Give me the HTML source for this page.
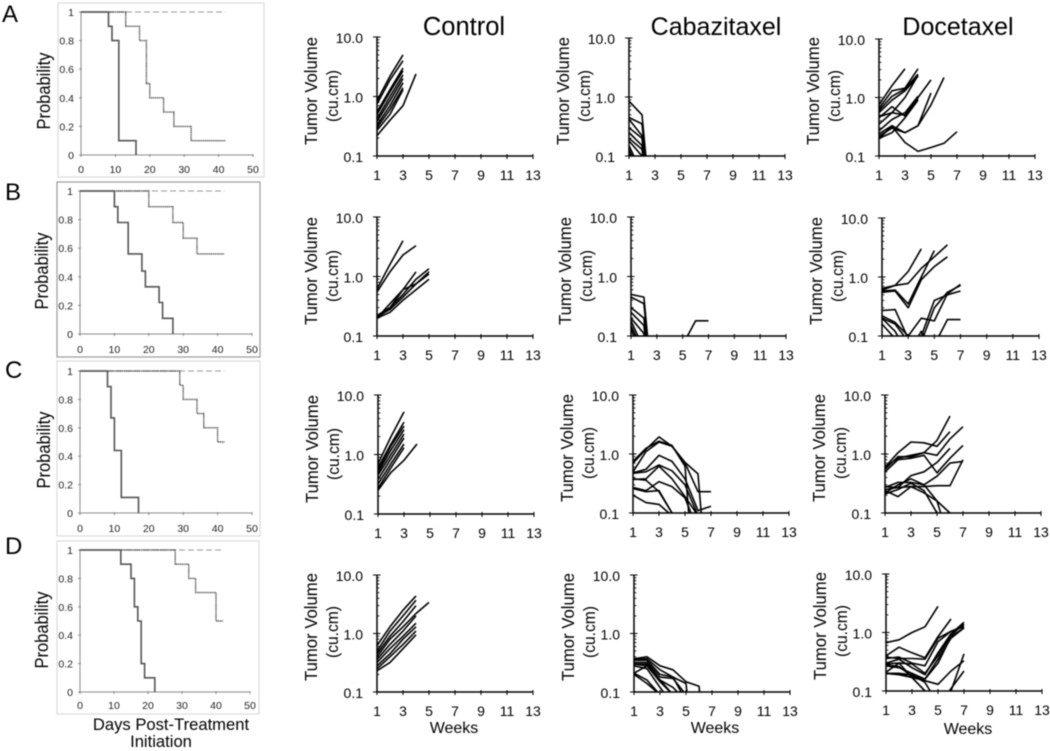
<!DOCTYPE html>
<html lang="en">
<head>
<meta charset="utf-8">
<title>Survival and tumor volume panels</title>
<style>
html,body{margin:0;padding:0;background:#fff;width:1050px;height:751px;overflow:hidden}
svg{display:block;filter:blur(0.5px)}
text{font-family:"Liberation Sans",sans-serif;fill:#000}
</style>
</head>
<body>
<svg id="fig" xmlns="http://www.w3.org/2000/svg" width="1050" height="751" viewBox="0 0 1050 751">
  <rect x="0" y="0" width="1050" height="751" fill="#fff"/>
  <text x="2" y="22" font-size="24">A</text>
  <text x="5" y="200" font-size="24">B</text>
  <text x="5" y="378" font-size="24">C</text>
  <text x="5" y="554" font-size="24">D</text>
  <text x="464" y="35" font-size="25.5" text-anchor="middle">Control</text>
  <text x="716" y="35" font-size="25" text-anchor="middle">Cabazitaxel</text>
  <text x="958" y="35" font-size="25" text-anchor="middle">Docetaxel</text>
  <text x="171" y="730" font-size="16.6" text-anchor="middle">Days Post-Treatment</text>
  <text x="161" y="747" font-size="16.6" text-anchor="middle">Initiation</text>
  <text x="454" y="733" font-size="16" text-anchor="middle">Weeks</text>
  <text x="715" y="733" font-size="16" text-anchor="middle">Weeks</text>
  <text x="968" y="734" font-size="16" text-anchor="middle">Weeks</text>
</svg>
<script>
// ---- Survival (Kaplan-Meier) data: event days and probability after each event ----
const kmDayTicks = [0, 10, 20, 30, 40, 50];
const kmProbTicks = [0, 0.2, 0.4, 0.6, 0.8, 1];
const kmProbLabels = ['0', '0.2', '0.4', '0.6', '0.8', '1'];
const kmEndDay = 42;

const kmControlDaysA = [8, 9, 11, 16];
const kmControlProbA = [0.9, 0.8, 0.1, 0];
const kmCabaDaysA = [];
const kmCabaProbA = [];
const kmDoceDaysA = [13, 17, 19, 20, 24, 27, 32];
const kmDoceProbA = [0.9, 0.8, 0.5, 0.4, 0.3, 0.2, 0.1];

const kmControlDaysB = [10, 11, 14, 18, 19, 23, 24, 27];
const kmControlProbB = [0.89, 0.78, 0.56, 0.44, 0.33, 0.22, 0.11, 0];
const kmDoceDaysB = [20, 27, 30, 34];
const kmDoceProbB = [0.89, 0.78, 0.67, 0.56];

const kmControlDaysC = [8, 9, 10, 12, 17];
const kmControlProbC = [0.89, 0.67, 0.44, 0.11, 0];
const kmDoceDaysC = [29, 30, 34, 36, 40];
const kmDoceProbC = [0.9, 0.8, 0.7, 0.6, 0.5];

const kmControlDaysD = [12, 15, 16, 17, 18, 19, 22];
const kmControlProbD = [0.9, 0.8, 0.6, 0.5, 0.2, 0.1, 0];
const kmDoceDaysD = [28, 32, 34, 40];
const kmDoceProbD = [0.9, 0.8, 0.7, 0.5];

// ---- Tumor volume data: one array per animal, first value is week 1 ----
const weekTicks = [1, 3, 5, 7, 9, 11, 13];
const volumeTicks = [0.1, 1, 10];
const volumeLabels = ['0.1', '1.0', '10.0'];

const controlA = [
  [0.85, 2.2, 5.0], [0.75, 1.9, 4.0], [0.55, 1.3, 3.0], [0.5, 1.2, 2.7], [0.42, 1.0, 2.3],
  [0.38, 0.85, 2.0], [0.33, 0.7, 1.7], [0.3, 0.6, 1.4], [0.27, 0.5, 1.3], [0.22, 0.4, 0.7, 2.4]
];
const cabaA = [
  [0.85, 0.5, 0.002], [0.45, 0.35, 0.002], [0.42, 0.22, 0.002], [0.3, 0.2, 0.002], [0.25, 0.15, 0.002],
  [0.2, 0.13, 0.002], [0.18, 0.1, 0.002], [0.15, 0.05], [0.13, 0.04], [0.12, 0.03]
];
const doceA = [
  [0.75, 1.6, 3.1], [0.65, 1.3, 1.45, 3.1], [0.6, 1.05, 1.4, 2.5], [0.55, 0.9, 1.3, 2.3], [0.47, 0.55, 1.0, 2.4],
  [0.45, 0.7, 0.48, 1.0, 2.0], [0.35, 0.55, 0.5, 0.95], [0.27, 0.42, 0.55, 1.05],
  [0.24, 0.33, 0.25, 0.33, 1.2], [0.22, 0.3, 0.25, 0.33, 0.75, 2.2], [0.2, 0.25, 0.45, 0.9],
  [0.2, 0.32, 0.17, 0.12, 0.14, 0.165, 0.26]
];

const controlB = [
  [0.62, 1.6, 4.0], [0.55, 1.2, 2.3, 3.3], [0.2, 0.35, 0.6, 1.2], [0.2, 0.3, 0.5, 0.9, 1.35],
  [0.21, 0.28, 0.45, 0.75, 1.2], [0.2, 0.25, 0.4, 0.6, 0.9], [0.22, 0.3, 0.6, 0.75, 1.1]
];
const cabaB = [
  [0.5, 0.45, 0.002], [0.45, 0.35, 0.002], [0.3, 0.2, 0.002], [0.25, 0.15, 0.002], [0.2, 0.11, 0.002],
  [0.18, 0.06], [0.15, 0.05], [0.13, 0.04], [0.07, 0.07, 0.07, 0.07, 0.07, 0.18, 0.18]
];
const doceB = [
  [0.64, 0.72, 1.24, 3.0], [0.6, 0.72, 0.78, 1.4, 2.2, 3.5], [0.58, 0.6, 0.35, 1.0, 2.8], [0.55, 0.58, 0.3, 0.9, 1.5, 2.2],
  [0.22, 0.17, 0.1, 0.2, 0.18, 0.52, 0.75], [0.27, 0.28, 0.09, 0.1, 0.4, 0.5, 0.58], [0.2, 0.16, 0.08, 0.08, 0.3, 0.55, 0.72],
  [0.2, 0.12, 0.05, 0.12, 0.06], [0.06, 0.06, 0.06, 0.06, 0.07, 0.19, 0.19], [0.16, 0.09, 0.05]
];

const controlC = [
  [0.7, 2.0, 5.2], [0.6, 1.5, 3.5], [0.55, 1.4, 3.0], [0.5, 1.2, 2.6], [0.45, 1.0, 2.2],
  [0.38, 0.85, 1.9], [0.32, 0.7, 1.5], [0.27, 0.6, 1.3], [0.25, 0.5, 0.8, 1.5]
];
const cabaC = [
  [0.7, 1.2, 1.95, 1.35, 0.72, 0.46, 0.001], [0.75, 1.25, 1.65, 1.4, 0.62, 0.001], [0.5, 1.1, 1.6, 1.35, 0.7, 0.23, 0.23],
  [0.48, 0.55, 0.95, 0.75, 0.38, 0.11, 0.13], [0.47, 0.5, 0.65, 0.52, 0.3, 0.09], [0.37, 0.38, 0.62, 0.38, 0.19, 0.09],
  [0.38, 0.36, 0.23, 0.1, 0.06], [0.27, 0.24, 0.34, 0.28, 0.18, 0.05], [0.26, 0.23, 0.24, 0.1], [0.2, 0.15, 0.14, 0.09]
];
const doceC = [
  [0.6, 0.85, 0.95, 1.05, 1.7, 4.4], [0.6, 1.05, 1.6, 1.55, 1.35, 2.4], [0.55, 0.9, 0.9, 1.05, 0.95, 1.8, 2.9],
  [0.5, 0.8, 0.85, 0.95, 0.48, 0.85, 1.4], [0.28, 0.27, 0.43, 0.5, 0.72, 1.25], [0.27, 0.33, 0.33, 0.3, 0.42, 0.7, 0.75],
  [0.25, 0.27, 0.28, 0.28, 0.29, 0.29, 0.8], [0.24, 0.19, 0.28, 0.22, 0.16, 0.03], [0.22, 0.3, 0.38, 0.3, 0.16, 0.1],
  [0.21, 0.25, 0.32, 0.24, 0.1, 0.05]
];

const controlD = [
  [0.62, 1.3, 2.5, 4.4], [0.5, 1.1, 2.0, 3.7], [0.45, 0.9, 1.6, 3.0], [0.4, 0.8, 1.3, 2.2, 3.4], [0.36, 0.65, 1.1, 2.0],
  [0.32, 0.55, 0.9, 1.5], [0.28, 0.45, 0.8, 1.3], [0.25, 0.4, 0.65, 1.1], [0.23, 0.32, 0.55, 0.95]
];
const cabaD = [
  [0.37, 0.4, 0.28, 0.24, 0.15, 0.125, 0.001], [0.36, 0.37, 0.24, 0.18, 0.14, 0.001], [0.35, 0.35, 0.2, 0.18, 0.07],
  [0.32, 0.32, 0.18, 0.17, 0.09], [0.3, 0.3, 0.16, 0.12, 0.07], [0.3, 0.28, 0.16, 0.09], [0.28, 0.25, 0.12, 0.06],
  [0.21, 0.28, 0.15, 0.09], [0.21, 0.16, 0.09], [0.2, 0.14, 0.09]
];
const doceD = [
  [0.67, 0.75, 1.0, 1.25, 2.8], [0.4, 0.56, 0.45, 0.37, 0.85, 1.7], [0.38, 0.36, 0.36, 0.35, 0.8, 1.05, 1.25],
  [0.36, 0.38, 0.3, 0.27, 0.7, 1.05, 1.3], [0.3, 0.35, 0.25, 0.19, 0.45, 0.95, 1.5], [0.29, 0.3, 0.29, 0.2, 0.4, 0.9, 1.4],
  [0.28, 0.26, 0.18, 0.16, 0.35, 0.8, 1.2], [0.27, 0.25, 0.2, 0.16, 0.3, 0.85, 1.2], [0.21, 0.3, 0.17, 0.15, 0.13, 0.22, 0.33],
  [0.2, 0.2, 0.19, 0.14, 0.06, 0.1, 0.43], [0.2, 0.19, 0.17, 0.1, 0.05, 0.11, 0.22], [0.2, 0.2, 0.17, 0.1, 0.04]
];

// ---- Layout (panel geometry, separate from the data) ----
const svg = document.getElementById('fig');
const NS = 'http://www.w3.org/2000/svg';

function shape(tag, attrs, parent) {
  const el = document.createElementNS(NS, tag);
  for (const k in attrs) el.setAttribute(k, attrs[k]);
  (parent || svg).appendChild(el);
  return el;
}

function steps(days, probs, endDay) {
  const pts = [[0, 1]];
  let p = 1;
  days.forEach(function (d, i) {
    pts.push([d, p]);
    p = probs[i];
    pts.push([d, p]);
  });
  if (endDay !== null) pts.push([endDay, p]);
  return pts;
}

function drawSurvival(cfg) {
  const g = shape('g', {});
  
  
  const box = shape('rect', { x: cfg.bx, y: cfg.by, width: cfg.bw, height: cfg.bh, fill: '#fff', stroke: cfg.border, 'stroke-width': 1.2 }, g);
  
  
  const xs = function (d) { return cfg.x0 + d / 50 * (cfg.x50 - cfg.x0); };
  const ys = function (p) { return cfg.y0 - p * (cfg.y0 - cfg.y1); };

  const axisX = shape('line', { x1: xs(0), x2: xs(50), y1: cfg.y0, y2: cfg.y0, stroke: '#8a8a8a', 'stroke-width': 1 }, g);
  
  
  const axisY = shape('line', { x1: xs(0), x2: xs(0), y1: cfg.y1, y2: cfg.y0, stroke: '#8a8a8a', 'stroke-width': 1 }, g);
  
  

  kmDayTicks.forEach(function (d) {
    const t = shape('line', { x1: xs(d), x2: xs(d), y1: cfg.y0 - 1, y2: cfg.y0 + 2, stroke: '#8a8a8a' }, g);
    
    
    const l = shape('text', { x: xs(d), y: cfg.y0 + cfg.xLabelDy, 'font-size': 10.5, 'text-anchor': 'middle', style: 'fill:#222' }, g);
    
    
    l.textContent = String(d);
  });
  kmProbTicks.forEach(function (p, i) {
    const t = shape('line', { x1: xs(0) - 2, x2: xs(0) + 1, y1: ys(p), y2: ys(p), stroke: '#8a8a8a' }, g);
    
    
    const l = shape('text', { x: xs(0) - 7, y: ys(p) + 4, 'font-size': 10.5, 'text-anchor': 'end', style: 'fill:#222' }, g);
    
    
    l.textContent = kmProbLabels[i];
  });

  const toPath = function (pts) {
    return pts.map(function (q, i) { return (i ? 'L' : 'M') + xs(q[0]).toFixed(1) + ' ' + ys(q[1]).toFixed(1); }).join('');
  };
  const cab = shape('path', { d: toPath(steps(kmCabaDaysA, kmCabaProbA, kmEndDay)), fill: 'none', stroke: '#999', 'stroke-width': 1.1, 'stroke-dasharray': '6 3' }, g);
  
  
  const doce = shape('path', { d: toPath(steps(cfg.doceDays, cfg.doceProb, kmEndDay)), fill: 'none', stroke: '#444', 'stroke-width': 1.4, 'stroke-dasharray': '1.2 0.7' }, g);
  
  
  const ctrl = shape('path', { d: toPath(steps(cfg.ctrlDays, cfg.ctrlProb, null)), fill: 'none', stroke: '#555', 'stroke-width': 1.6 }, g);
  
  

  const title = shape('text', { x: cfg.titleX, y: cfg.titleY, 'font-size': 18, 'text-anchor': 'middle', textLength: 77, lengthAdjust: 'spacingAndGlyphs', transform: 'rotate(-90 ' + cfg.titleX + ' ' + cfg.titleY + ')' }, g);
  
  
  title.textContent = 'Probability';
}

drawSurvival({ id: 'a', bx: 58, by: 3, bw: 206, bh: 174, border: '#dcdcdc', x0: 81, x50: 253, y1: 12, y0: 155, xLabelDy: 18, titleX: 50, titleY: 91, ctrlDays: kmControlDaysA, ctrlProb: kmControlProbA, doceDays: kmDoceDaysA, doceProb: kmDoceProbA });
drawSurvival({ id: 'b', bx: 57, by: 182, bw: 203, bh: 175, border: '#999', x0: 80, x50: 252, y1: 191, y0: 334, xLabelDy: 19, titleX: 48, titleY: 271, ctrlDays: kmControlDaysB, ctrlProb: kmControlProbB, doceDays: kmDoceDaysB, doceProb: kmDoceProbB });
drawSurvival({ id: 'c', bx: 57, by: 361, bw: 203, bh: 175, border: '#dcdcdc', x0: 80, x50: 252, y1: 371, y0: 513, xLabelDy: 19, titleX: 50, titleY: 450, ctrlDays: kmControlDaysC, ctrlProb: kmControlProbC, doceDays: kmDoceDaysC, doceProb: kmDoceProbC });
drawSurvival({ id: 'd', bx: 57, by: 541, bw: 202, bh: 173, border: '#dcdcdc', x0: 80, x50: 250, y1: 550, y0: 692, xLabelDy: 17, titleX: 48, titleY: 630, ctrlDays: kmControlDaysD, ctrlProb: kmControlProbD, doceDays: kmDoceDaysD, doceProb: kmDoceProbD });

const volumeFloor = 0.1;

// Build a line path in which every segment stops where it meets the axis floor.
function volumePath(vals, xs, ys) {
  const floorLog = Math.log10(volumeFloor);
  let d = '';
  let penDown = false;
  for (let i = 0; i < vals.length - 1; i++) {
    const a = Math.log10(vals[i]);
    const b = Math.log10(vals[i + 1]);
    if (a < floorLog && b < floorLog) {
      penDown = false;
      continue;
    }
    const t = a === b ? 0 : (floorLog - a) / (b - a);
    const startWeek = a < floorLog ? i + 1 + t : i + 1;
    const startVal = a < floorLog ? volumeFloor : vals[i];
    const endWeek = b < floorLog ? i + 1 + t : i + 2;
    const endVal = b < floorLog ? volumeFloor : vals[i + 1];
    if (!penDown) d += 'M' + xs(startWeek).toFixed(1) + ' ' + ys(startVal).toFixed(1);
    d += 'L' + xs(endWeek).toFixed(1) + ' ' + ys(endVal).toFixed(1);
    penDown = b >= floorLog;
  }
  return d;
}

function drawVolume(cfg) {
  const g = shape('g', {});
  
  
  const xs = function (w) { return cfg.x1 + (w - 1) / 12 * (cfg.x13 - cfg.x1); };
  const ys = function (v) { return cfg.y01 - (Math.log10(v) + 1) / 2 * (cfg.y01 - cfg.y10); };

  cfg.series.forEach(function (vals) {
    const d = volumePath(vals, xs, ys);
    if (!d) return;
    const p = shape('path', { d: d, fill: 'none', stroke: '#000', 'stroke-width': 1.6, 'stroke-linejoin': 'round' }, g);
    
    
  });

  const axisX = shape('line', { x1: xs(1), x2: xs(13), y1: cfg.y01, y2: cfg.y01, stroke: '#000', 'stroke-width': 1.5 }, g);
  
  
  const axisY = shape('line', { x1: xs(1), x2: xs(1), y1: cfg.y10, y2: cfg.y01, stroke: '#000', 'stroke-width': 1.5 }, g);
  
  

  weekTicks.forEach(function (w) {
    const t = shape('line', { x1: xs(w), x2: xs(w), y1: cfg.y01 - 2, y2: cfg.y01 + 3, stroke: '#000', 'stroke-width': 1 }, g);
    
    
    const l = shape('text', { x: xs(w), y: cfg.y01 + 24, 'font-size': 14, 'text-anchor': 'middle' }, g);
    
    
    l.textContent = String(w);
  });
  volumeTicks.forEach(function (v, i) {
    const t = shape('line', { x1: xs(1) - 4, x2: xs(1) + 3.5, y1: ys(v), y2: ys(v), stroke: '#000', 'stroke-width': 1 }, g);
    
    
    const l = shape('text', { x: xs(1) - 14, y: ys(v) + 6, 'font-size': 14, 'text-anchor': 'end' }, g);
    
    
    l.textContent = volumeLabels[i];
    if (i < volumeTicks.length - 1) {
      for (let m = 2; m <= 9; m++) {
        const mt = shape('line', { x1: xs(1), x2: xs(1) + 2.5, y1: ys(v * m), y2: ys(v * m), stroke: '#000', 'stroke-width': 0.8 }, g);
        
        
      }
    }
  });

  const tx = cfg.x1 - 60;
  const ty = cfg.y01 - 65;
  const t1 = shape('text', { x: tx, y: ty, 'font-size': 17.5, 'text-anchor': 'middle', textLength: 108, lengthAdjust: 'spacingAndGlyphs', transform: 'rotate(-90 ' + tx + ' ' + ty + ')' }, g);
  
  
  t1.textContent = 'Tumor Volume';
  const ux = cfg.x1 - 39;
  const uy = cfg.y01 - 60;
  const t2 = shape('text', { x: ux, y: uy, 'font-size': 17, 'text-anchor': 'middle', textLength: 52, lengthAdjust: 'spacingAndGlyphs', transform: 'rotate(-90 ' + ux + ' ' + uy + ')' }, g);
  
  
  t2.textContent = '(cu.cm)';
}

drawVolume({ id: 'a-control', x1: 377, x13: 533, y10: 37, y01: 156, series: controlA });
drawVolume({ id: 'a-cabazitaxel', x1: 629, x13: 785, y10: 38, y01: 156, series: cabaA });
drawVolume({ id: 'a-docetaxel', x1: 879, x13: 1035, y10: 39, y01: 156, series: doceA });
drawVolume({ id: 'b-control', x1: 377, x13: 533, y10: 217, y01: 336, series: controlB });
drawVolume({ id: 'b-cabazitaxel', x1: 631, x13: 786, y10: 217, y01: 336, series: cabaB });
drawVolume({ id: 'b-docetaxel', x1: 882, x13: 1039, y10: 218, y01: 336, series: doceB });
drawVolume({ id: 'c-control', x1: 378, x13: 534, y10: 395, y01: 514, series: controlC });
drawVolume({ id: 'c-cabazitaxel', x1: 633, x13: 789, y10: 395, y01: 513, series: cabaC });
drawVolume({ id: 'c-docetaxel', x1: 885, x13: 1041, y10: 395, y01: 513, series: doceC });
drawVolume({ id: 'd-control', x1: 377, x13: 533, y10: 575, y01: 692, series: controlD });
drawVolume({ id: 'd-cabazitaxel', x1: 634, x13: 790, y10: 575, y01: 692, series: cabaD });
drawVolume({ id: 'd-docetaxel', x1: 886, x13: 1042, y10: 574, y01: 691, series: doceD });
</script>
</body>
</html>
